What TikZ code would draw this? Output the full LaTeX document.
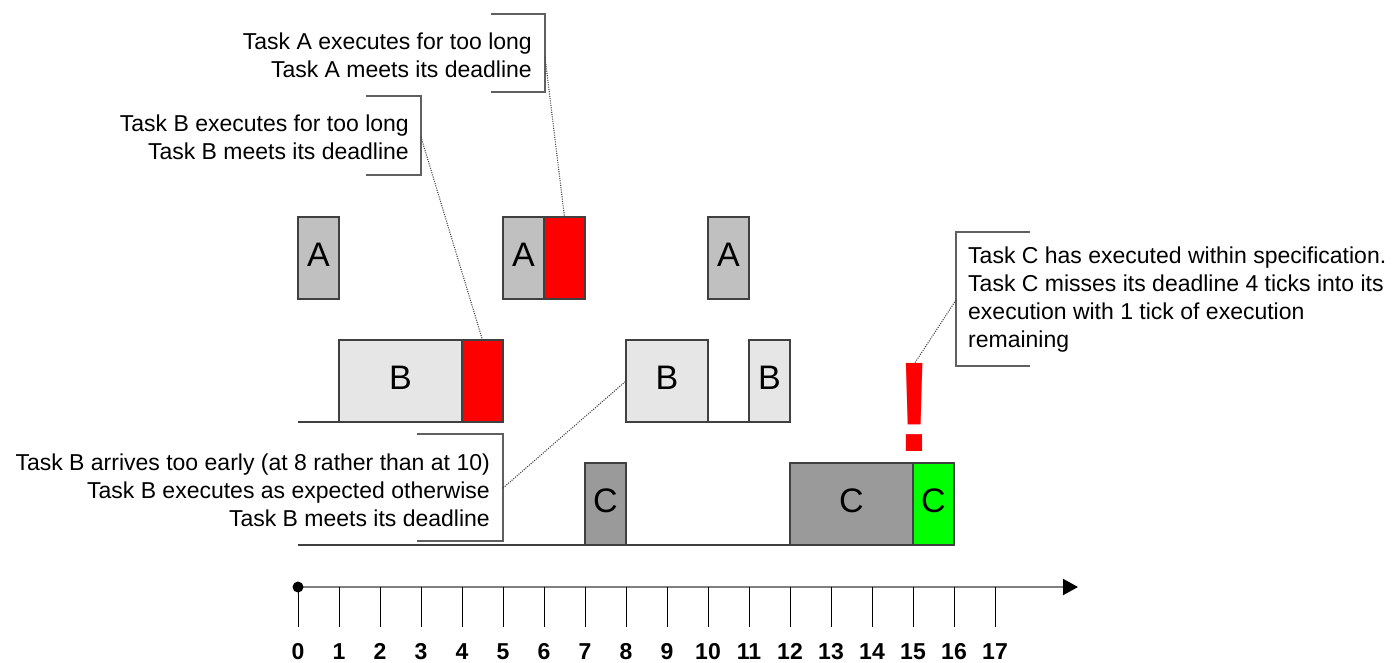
\documentclass[tikz,border=0pt]{standalone}
\usepackage{fontspec}
\setmainfont{Liberation Sans}
\usetikzlibrary{arrows.meta}
\definecolor{agray}{HTML}{C0C0C0}
\definecolor{bgray}{HTML}{E6E6E6}
\definecolor{cgray}{HTML}{9A9A9A}
\definecolor{edge}{HTML}{404040}
\definecolor{brk}{HTML}{606060}
\definecolor{axgray}{HTML}{808080}
\definecolor{pure red}{HTML}{FF0000}
\definecolor{pure green}{HTML}{00FF00}
\tikzset{
  task/.style={draw=edge, line width=1.3pt, minimum height=82pt, inner sep=0pt, outer sep=0pt,
    text depth=7pt, font=\fontsize{34}{34}\selectfont},
  taska/.style={task, fill=agray, minimum width=41pt},
  taskb/.style={task, fill=bgray},
  taskc/.style={task, fill=cgray},
  late/.style={task, fill=pure red, minimum width=41pt},
  extra/.style={task, fill=pure green, minimum width=41pt},
  baseln/.style={draw=edge, line width=1.3pt},
  callout/.style={font=\fontsize{23}{28}\selectfont, inner sep=0pt},
  bracket/.style={draw=brk, line width=1.2pt},
  pointer/.style={draw=edge, line width=1.1pt, dash pattern=on 1pt off 1.3pt},
  axisln/.style={draw=axgray, line width=2pt},
  tickln/.style={draw=black, line width=0.8pt},
  ticklabel/.style={font=\bfseries\fontsize{23}{23}\selectfont, inner sep=0pt, anchor=base}
}
\begin{document}
\begin{tikzpicture}[x=1pt,y=-1pt]
\useasboundingbox (0,0) rectangle (1392,662);

% ---- row A
\node[taska] (a1) at (318.5,258) {A};
\node[taska] (a2) at (523.5,258) {A};
\node[late]  (a2r) at (564.5,258) {};
\node[taska] (a3) at (728.5,258) {A};

% ---- row B
\coordinate (b0) at (298,422);
\node[taskb, minimum width=123pt] (b1) at (400.5,381) {B};
\node[late] (b1r) at (482.5,381) {};
\node[taskb, minimum width=82pt] (b2) at (667,381) {B};
\node[taskb, minimum width=41pt] (b3) at (769.5,381) {B};
\draw[baseln] (b0) -- (b1.south west);
\draw[baseln] (b2.south east) -- (b3.south west);

% ---- row C
\coordinate (c0) at (298,545);
\node[taskc, minimum width=41pt] (c1) at (605.5,504) {C};
\node[taskc, minimum width=123pt] (c2) at (851.5,504) {C};
\node[extra] (c3) at (933.5,504) {C};
\draw[baseln] (c0) -- (c1.south west);
\draw[baseln] (c1.south east) -- (c2.south west);

% ---- exclamation
\node[text=pure red, font=\bfseries\fontsize{128}{128}\selectfont, inner sep=0pt, anchor=base,
      xscale=0.9] (excl) at (915,451) {!};

% ---- time axis
\coordinate (origin) at (298,587);
\coordinate (axend) at (1078,587);
\draw[axisln, -{Triangle[length=15pt,width=16pt,color=black]}] (origin) -- (axend);
\foreach \i in {0,...,17} {
  \draw[tickln] (298+41*\i,587) -- (298+41*\i,627);
  \node[ticklabel] (t\i) at (298+41*\i,659) {\i};
}
\node[circle, fill=black, minimum size=11pt, inner sep=0pt] (dot) at (origin) {};

% ---- callout 1
\node[callout, align=right, anchor=east] (ca) at (532,55)
  {Task A executes for too long\\Task A meets its deadline};
\coordinate (ca1) at (491,14); \coordinate (ca2) at (545,92);
\draw[bracket] (ca1) -| (ca2) -- (491,92);
\coordinate (cam) at (545,57);
\draw[pointer] (cam) -- (a2r.north);

% ---- callout 2
\node[callout, align=right, anchor=east] (cb) at (409,137)
  {Task B executes for too long\\Task B meets its deadline};
\coordinate (cb1) at (366,96); \coordinate (cb2) at (421,175);
\draw[bracket] (cb1) -| (cb2) -- (366,175);
\coordinate (cbm) at (421,137);
\draw[pointer] (cbm) -- (b1r.north);

% ---- callout 3
\node[callout, align=right, anchor=east] (cc) at (490,490)
  {Task B arrives too early (at 8 rather than at 10)\\Task B executes as expected otherwise\\Task B meets its deadline};
\coordinate (cc1) at (417,434); \coordinate (cc2) at (503,541);
\draw[bracket] (cc1) -| (cc2) -- (417,541);
\coordinate (ccm) at (503,488);
\draw[pointer] (ccm) -- (b2.west);

% ---- callout 4
\node[callout, align=left, anchor=west] (cd) at (968,300)
  {Task C has executed within specification.\\Task C misses its deadline 4 ticks into its\\execution with 1 tick of execution\\remaining};
\coordinate (cd1) at (1030,232); \coordinate (cd2) at (956,366);
\draw[bracket] (cd1) -| (cd2) -- (1030,366);
\coordinate (cdm) at (956,300);
\draw[pointer] (cdm) -- (excl.north);
\end{tikzpicture}
\end{document}
